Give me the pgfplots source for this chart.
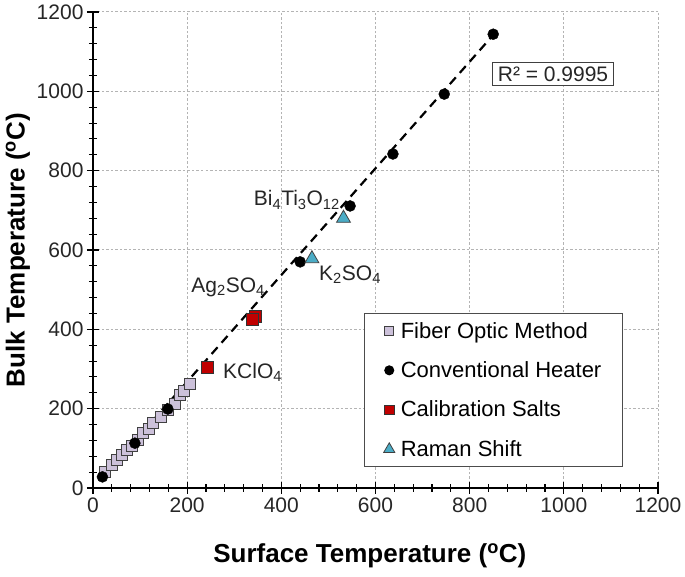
\documentclass[border=0pt]{standalone}
\usepackage{pgfplots}
\pgfplotsset{compat=1.18}
\usepackage{fontspec}
\setmainfont{Liberation Sans}
\definecolor{fiber}{RGB}{204,193,218}
\definecolor{salt}{RGB}{192,0,0}
\definecolor{raman}{RGB}{75,172,198}
\definecolor{gridc}{RGB}{180,180,180}
\begin{document}
\begin{tikzpicture}
\useasboundingbox (-93pt,-89pt) rectangle (592pt,488pt);
\begin{axis}[
  scale only axis, width=565pt, height=476pt,
  xmin=0, xmax=1200, ymin=0, ymax=1200,
  xtick={0,200,...,1200}, ytick={0,200,...,1200},
  minor x tick num=4, minor y tick num=4,
  axis x line=bottom, axis y line=left,
  axis line style={-, line width=1.6pt, black},
  tick align=center,
  major tick length=12pt, minor tick length=8pt,
  tick style={line width=1.1pt, black},
  grid=major,
  major grid style={dash pattern=on 2.5pt off 2pt, line width=1pt, gridc},
  /pgf/number format/assume math mode=true,
  /pgf/number format/1000 sep={},
  tick label style={font=\fontsize{21}{25}\selectfont, text=black!85},
  xlabel={Surface Temperature (\textsuperscript{o}C)},
  ylabel={Bulk Temperature (\textsuperscript{o}C)},
  label style={font=\fontsize{26}{30}\selectfont\bfseries},
  xlabel style={at={(axis description cs:0.49,-0.143)}, anchor=center},
  ylabel style={at={(axis description cs:-0.133,0.5)}, anchor=center},
  legend style={at={(rel axis cs:0.938,0.3675)}, anchor=north east,
    font=\fontsize{22}{26}\selectfont, draw=black!70, line width=1.2pt,
    row sep=18pt, inner xsep=19pt, inner ysep=6.5pt,
    /tikz/every odd column/.append style={column sep=4pt}},
  legend image post style={scale=0.8},
  legend cell align=left,
  clip=false,
]
\addplot[only marks, mark=square*, mark size=5.5pt,
  mark options={fill=fiber, draw=black!75, line width=0.8pt}]
  coordinates {(25,41)(40,58)(50,71)(61,83)(71,96)(82,106)(95,122)(107,138)
  (118,150)(128,163)(145,180)(160,197)(174,213)(185,234)(194,245)(206,262)};
\addlegendentry{Fiber Optic Method}
\addplot[only marks, mark=*, mark size=5.5pt, mark options={fill=black, draw=black}]
  coordinates {(20,28)(89,113)(159,199)(440,570)(546,711)(637,842)(746,993)(850,1144)};
\addlegendentry{Conventional Heater}
\addplot[only marks, mark=square*, mark size=6pt,
  mark options={fill=salt, draw=black!80, line width=0.8pt}]
  coordinates {(344,433)(338,425)(243,304)};
\addlegendentry{Calibration Salts}
\addplot[only marks, mark=triangle*, mark size=8pt,
  mark options={fill=raman, draw=black!75, line width=0.8pt}]
  coordinates {(465,578)(532,680)};
\addlegendentry{Raman Shift}
\addplot[forget plot, black, line width=2.2pt, dash pattern=on 9pt off 6pt]
  coordinates {(20,26)(850,1142)};
\node[font=\fontsize{21}{25}\selectfont, text=black!85] at (axis cs:433,726) {Bi\textsubscript{4}Ti\textsubscript{3}O\textsubscript{12}};
\node[font=\fontsize{21}{25}\selectfont, text=black!85] at (axis cs:546,537) {K\textsubscript{2}SO\textsubscript{4}};
\node[font=\fontsize{21}{25}\selectfont, text=black!85] at (axis cs:287,507) {Ag\textsubscript{2}SO\textsubscript{4}};
\node[font=\fontsize{21}{25}\selectfont, text=black!85] at (axis cs:339,292) {KClO\textsubscript{4}};
\node[font=\fontsize{21}{25}\selectfont, text=black!85, draw=black!75, line width=1.2pt, fill=white,
  inner xsep=5pt, inner ysep=4pt] at (axis cs:977,1044) {R² = 0.9995};
\end{axis}
\end{tikzpicture}
\end{document}
